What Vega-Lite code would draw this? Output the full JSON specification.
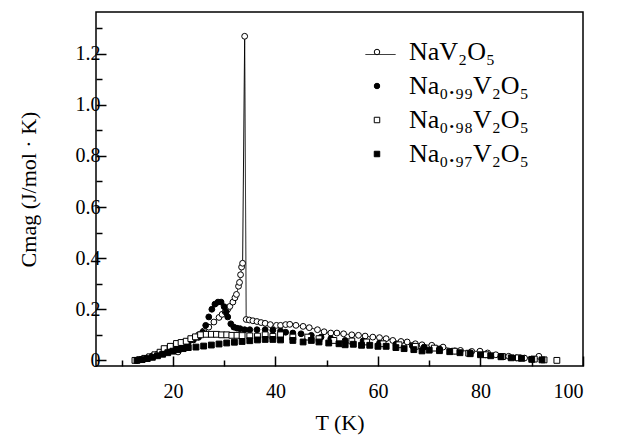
{
  "$schema": "https://vega.github.io/schema/vega-lite/v6.json",
  "width": 487,
  "height": 354,
  "autosize": {"type": "none"},
  "padding": {"left": 96, "top": 12, "right": 57, "bottom": 75},
  "background": "white",
  "config": {
    "view": {"stroke": "black", "strokeWidth": 1.5},
    "font": "Liberation Serif",
    "axis": {"labelFont": "Liberation Serif", "titleFont": "Liberation Serif", "labelColor": "black", "titleColor": "black", "tickColor": "black", "grid": false, "domain": false, "titleFontWeight": "normal"}
  },
  "datasets": {
    "pts": [
      {"s":"NaV2O5","T":14,"C":0.004},{"s":"NaV2O5","T":15,"C":0.01},{"s":"NaV2O5","T":16,"C":0.018},{"s":"NaV2O5","T":17,"C":0.025},{"s":"NaV2O5","T":18,"C":0.032},{"s":"NaV2O5","T":19,"C":0.04},{"s":"NaV2O5","T":20,"C":0.048},{"s":"NaV2O5","T":21,"C":0.033},{"s":"NaV2O5","T":22,"C":0.065},{"s":"NaV2O5","T":23,"C":0.075},{"s":"NaV2O5","T":24,"C":0.085},{"s":"NaV2O5","T":25,"C":0.1},{"s":"NaV2O5","T":26,"C":0.115},{"s":"NaV2O5","T":27,"C":0.13},{"s":"NaV2O5","T":28,"C":0.15},{"s":"NaV2O5","T":29,"C":0.168},{"s":"NaV2O5","T":29.6,"C":0.18},{"s":"NaV2O5","T":30.2,"C":0.19},{"s":"NaV2O5","T":30.7,"C":0.2},{"s":"NaV2O5","T":31.1,"C":0.211},{"s":"NaV2O5","T":31.7,"C":0.228},{"s":"NaV2O5","T":32.1,"C":0.245},{"s":"NaV2O5","T":32.4,"C":0.258},{"s":"NaV2O5","T":32.8,"C":0.29},{"s":"NaV2O5","T":33.0,"C":0.305},{"s":"NaV2O5","T":33.2,"C":0.335},{"s":"NaV2O5","T":33.4,"C":0.365},{"s":"NaV2O5","T":33.6,"C":0.38},{"s":"NaV2O5","T":34.0,"C":1.268},{"s":"NaV2O5","T":34.3,"C":0.16},{"s":"NaV2O5","T":34.9,"C":0.158},{"s":"NaV2O5","T":35.6,"C":0.155},{"s":"NaV2O5","T":36.4,"C":0.152},{"s":"NaV2O5","T":37.2,"C":0.148},{"s":"NaV2O5","T":38.0,"C":0.145},{"s":"NaV2O5","T":39,"C":0.14},{"s":"NaV2O5","T":40.2,"C":0.137},{"s":"NaV2O5","T":41,"C":0.137},{"s":"NaV2O5","T":42,"C":0.14},{"s":"NaV2O5","T":42.8,"C":0.141},{"s":"NaV2O5","T":44,"C":0.137},{"s":"NaV2O5","T":45.4,"C":0.133},{"s":"NaV2O5","T":46.6,"C":0.128},{"s":"NaV2O5","T":48.2,"C":0.12},{"s":"NaV2O5","T":49.5,"C":0.112},{"s":"NaV2O5","T":50.8,"C":0.107},{"s":"NaV2O5","T":52,"C":0.107},{"s":"NaV2O5","T":53.3,"C":0.104},{"s":"NaV2O5","T":54.9,"C":0.1},{"s":"NaV2O5","T":56.2,"C":0.098},{"s":"NaV2O5","T":57.5,"C":0.095},{"s":"NaV2O5","T":59,"C":0.091},{"s":"NaV2O5","T":60.3,"C":0.089},{"s":"NaV2O5","T":61.6,"C":0.085},{"s":"NaV2O5","T":62.9,"C":0.078},{"s":"NaV2O5","T":64.5,"C":0.074},{"s":"NaV2O5","T":65.7,"C":0.072},{"s":"NaV2O5","T":67.3,"C":0.065},{"s":"NaV2O5","T":68.6,"C":0.061},{"s":"NaV2O5","T":70.5,"C":0.059},{"s":"NaV2O5","T":72.7,"C":0.052},{"s":"NaV2O5","T":76.1,"C":0.039},{"s":"NaV2O5","T":78.3,"C":0.035},{"s":"NaV2O5","T":79.9,"C":0.036},{"s":"NaV2O5","T":81.4,"C":0.029},{"s":"NaV2O5","T":83,"C":0.022},{"s":"NaV2O5","T":85.5,"C":0.016},{"s":"NaV2O5","T":88.6,"C":0.009},{"s":"NaV2O5","T":91.4,"C":0.016},

      {"s":"Na0.99","T":13,"C":0.0},{"s":"Na0.99","T":14,"C":0.004},{"s":"Na0.99","T":15,"C":0.01},{"s":"Na0.99","T":16,"C":0.016},{"s":"Na0.99","T":17,"C":0.022},{"s":"Na0.99","T":18,"C":0.03},{"s":"Na0.99","T":19,"C":0.037},{"s":"Na0.99","T":20,"C":0.045},{"s":"Na0.99","T":21,"C":0.052},{"s":"Na0.99","T":22,"C":0.06},{"s":"Na0.99","T":23,"C":0.07},{"s":"Na0.99","T":24,"C":0.08},{"s":"Na0.99","T":25,"C":0.09},{"s":"Na0.99","T":25.8,"C":0.11},{"s":"Na0.99","T":26.4,"C":0.137},{"s":"Na0.99","T":27,"C":0.17},{"s":"Na0.99","T":27.6,"C":0.2},{"s":"Na0.99","T":28.2,"C":0.22},{"s":"Na0.99","T":28.8,"C":0.228},{"s":"Na0.99","T":29.4,"C":0.228},{"s":"Na0.99","T":30,"C":0.21},{"s":"Na0.99","T":30.4,"C":0.19},{"s":"Na0.99","T":30.7,"C":0.17},{"s":"Na0.99","T":31.3,"C":0.143},{"s":"Na0.99","T":31.9,"C":0.13},{"s":"Na0.99","T":32.5,"C":0.126},{"s":"Na0.99","T":33.1,"C":0.124},{"s":"Na0.99","T":34,"C":0.12},{"s":"Na0.99","T":35,"C":0.12},{"s":"Na0.99","T":36.4,"C":0.12},{"s":"Na0.99","T":38,"C":0.12},{"s":"Na0.99","T":39.5,"C":0.118},{"s":"Na0.99","T":41,"C":0.115},{"s":"Na0.99","T":42,"C":0.11},{"s":"Na0.99","T":43.4,"C":0.107},{"s":"Na0.99","T":45,"C":0.104},{"s":"Na0.99","T":47,"C":0.098},{"s":"Na0.99","T":48.9,"C":0.091},{"s":"Na0.99","T":50.8,"C":0.085},{"s":"Na0.99","T":53.6,"C":0.078},{"s":"Na0.99","T":57.1,"C":0.076},{"s":"Na0.99","T":60.3,"C":0.068},{"s":"Na0.99","T":63.5,"C":0.063},{"s":"Na0.99","T":66.7,"C":0.057},{"s":"Na0.99","T":69,"C":0.052},{"s":"Na0.99","T":72,"C":0.045},{"s":"Na0.99","T":75,"C":0.037},{"s":"Na0.99","T":78,"C":0.03},{"s":"Na0.99","T":81,"C":0.022},{"s":"Na0.99","T":84,"C":0.016},{"s":"Na0.99","T":87,"C":0.01},{"s":"Na0.99","T":90,"C":0.005},

      {"s":"Na0.98","T":12.6,"C":0.0},{"s":"Na0.98","T":13.5,"C":0.003},{"s":"Na0.98","T":14.5,"C":0.008},{"s":"Na0.98","T":15.5,"C":0.014},{"s":"Na0.98","T":16.5,"C":0.022},{"s":"Na0.98","T":17.5,"C":0.032},{"s":"Na0.98","T":18.3,"C":0.046},{"s":"Na0.98","T":19.5,"C":0.055},{"s":"Na0.98","T":20.7,"C":0.066},{"s":"Na0.98","T":21.6,"C":0.07},{"s":"Na0.98","T":22.6,"C":0.075},{"s":"Na0.98","T":23.5,"C":0.085},{"s":"Na0.98","T":24.4,"C":0.092},{"s":"Na0.98","T":25.4,"C":0.1},{"s":"Na0.98","T":26.5,"C":0.102},{"s":"Na0.98","T":27.5,"C":0.102},{"s":"Na0.98","T":28.5,"C":0.102},{"s":"Na0.98","T":29.5,"C":0.1},{"s":"Na0.98","T":30.5,"C":0.1},{"s":"Na0.98","T":31.5,"C":0.098},{"s":"Na0.98","T":32.5,"C":0.098},{"s":"Na0.98","T":33.5,"C":0.097},{"s":"Na0.98","T":35,"C":0.096},{"s":"Na0.98","T":36.5,"C":0.095},{"s":"Na0.98","T":38,"C":0.1},{"s":"Na0.98","T":39.5,"C":0.094},{"s":"Na0.98","T":41,"C":0.1},{"s":"Na0.98","T":43.4,"C":0.091},{"s":"Na0.98","T":46.3,"C":0.091},{"s":"Na0.98","T":48.5,"C":0.085},{"s":"Na0.98","T":51.4,"C":0.078},{"s":"Na0.98","T":54.9,"C":0.076},{"s":"Na0.98","T":57.8,"C":0.072},{"s":"Na0.98","T":61,"C":0.065},{"s":"Na0.98","T":64.1,"C":0.061},{"s":"Na0.98","T":67.3,"C":0.055},{"s":"Na0.98","T":71,"C":0.048},{"s":"Na0.98","T":74.9,"C":0.036},{"s":"Na0.98","T":77.7,"C":0.028},{"s":"Na0.98","T":81.1,"C":0.022},{"s":"Na0.98","T":84.3,"C":0.015},{"s":"Na0.98","T":87.4,"C":0.01},{"s":"Na0.98","T":90.5,"C":0.005},{"s":"Na0.98","T":92.4,"C":0.002},{"s":"Na0.98","T":94.9,"C":0.0},

      {"s":"Na0.97","T":13,"C":0.0},{"s":"Na0.97","T":14,"C":0.003},{"s":"Na0.97","T":15,"C":0.007},{"s":"Na0.97","T":16,"C":0.012},{"s":"Na0.97","T":17,"C":0.018},{"s":"Na0.97","T":18,"C":0.024},{"s":"Na0.97","T":19,"C":0.03},{"s":"Na0.97","T":20,"C":0.036},{"s":"Na0.97","T":21,"C":0.042},{"s":"Na0.97","T":22,"C":0.046},{"s":"Na0.97","T":23,"C":0.05},{"s":"Na0.97","T":24.5,"C":0.052},{"s":"Na0.97","T":26,"C":0.056},{"s":"Na0.97","T":27.5,"C":0.06},{"s":"Na0.97","T":29,"C":0.064},{"s":"Na0.97","T":30.5,"C":0.068},{"s":"Na0.97","T":32,"C":0.071},{"s":"Na0.97","T":33.5,"C":0.074},{"s":"Na0.97","T":35,"C":0.077},{"s":"Na0.97","T":36.5,"C":0.08},{"s":"Na0.97","T":38,"C":0.082},{"s":"Na0.97","T":39.5,"C":0.082},{"s":"Na0.97","T":41,"C":0.08},{"s":"Na0.97","T":43.4,"C":0.078},{"s":"Na0.97","T":45.4,"C":0.072},{"s":"Na0.97","T":47,"C":0.078},{"s":"Na0.97","T":48.5,"C":0.072},{"s":"Na0.97","T":50.4,"C":0.068},{"s":"Na0.97","T":52.4,"C":0.065},{"s":"Na0.97","T":53.6,"C":0.061},{"s":"Na0.97","T":55.2,"C":0.063},{"s":"Na0.97","T":56.8,"C":0.059},{"s":"Na0.97","T":58.4,"C":0.059},{"s":"Na0.97","T":60,"C":0.055},{"s":"Na0.97","T":61.6,"C":0.055},{"s":"Na0.97","T":63.5,"C":0.05},{"s":"Na0.97","T":65.1,"C":0.046},{"s":"Na0.97","T":67,"C":0.042},{"s":"Na0.97","T":68.6,"C":0.037},{"s":"Na0.97","T":70,"C":0.04},{"s":"Na0.97","T":72,"C":0.038},{"s":"Na0.97","T":74,"C":0.034},{"s":"Na0.97","T":76,"C":0.03},{"s":"Na0.97","T":78,"C":0.026},{"s":"Na0.97","T":80,"C":0.022},{"s":"Na0.97","T":82,"C":0.018},{"s":"Na0.97","T":84,"C":0.014},{"s":"Na0.97","T":86,"C":0.01},{"s":"Na0.97","T":88,"C":0.008},{"s":"Na0.97","T":90,"C":0.004},{"s":"Na0.97","T":92,"C":0.002}
    ]
  },
  "data": {"name": "pts"},
  "encoding": {
    "x": {
      "field": "T", "type": "quantitative",
      "scale": {"domain": [5, 100], "nice": false, "zero": false},
      "axis": {
        "title": "T (K)", "titleFont": "Liberation Serif", "titleFontSize": 22, "titleFontStyle": "normal", "titlePadding": 11,
        "values": [10, 20, 30, 40, 50, 60, 70, 80, 90, 100],
        "labelExpr": "datum.value % 20 === 0 ? datum.label : ''",
        "labelFont": "Liberation Serif", "labelFontSize": 20, "labelPadding": 25,
        "tickSize": {"condition": {"test": "datum.value % 20 === 0", "value": -10}, "value": -6},
        "tickWidth": 1.5
      }
    },
    "y": {
      "field": "C", "type": "quantitative",
      "scale": {"domain": [-0.022, 1.363], "nice": false, "zero": false},
      "axis": {
        "title": "Cmag (J/mol · K)", "titleFont": "Liberation Serif", "titleFontSize": 22, "titlePadding": 35,
        "values": [0, 0.1, 0.2, 0.3, 0.4, 0.5, 0.6, 0.7, 0.8, 0.9, 1.0, 1.1, 1.2, 1.3],
        "labelExpr": "round(datum.value * 10) % 2 === 0 ? (datum.value === 0 ? '0' : format(datum.value, '.1f')) : ''",
        "labelFont": "Liberation Serif", "labelFontSize": 20, "labelPadding": 6,
        "tickSize": {"condition": {"test": "round(datum.value * 10) % 2 === 0", "value": -10}, "value": -6},
        "tickWidth": 1.5
      }
    }
  },
  "layer": [
    {
      "transform": [{"filter": "datum.s === 'NaV2O5'"}],
      "mark": {"type": "line", "color": "black", "strokeWidth": 1},
      "encoding": {
        "strokeDash": {
          "field": "s", "type": "nominal",
          "scale": {"domain": ["NaV2O5"], "range": [[1, 0]]},
          "legend": {
            "title": null, "orient": "none", "legendX": 269, "legendY": 27,
            "symbolType": "M-1,0L1,0", "symbolSize": 900, "symbolStrokeWidth": 1, "symbolStrokeColor": "black",
            "labelFont": "Liberation Serif", "labelFontSize": 26, "labelExpr": "' '"
          }
        }
      }
    },
    {
      "mark": {"type": "point", "opacity": 1, "stroke": "black", "strokeWidth": 1, "size": 34},
      "encoding": {
        "shape": {
          "field": "s", "type": "nominal",
          "scale": {"domain": ["NaV2O5", "Na0.99", "Na0.98", "Na0.97"], "range": ["circle", "circle", "square", "square"]},
          "legend": {
            "title": null, "orient": "none", "legendX": 268, "legendY": 27,
            "labelFont": "Liberation Serif", "labelFontSize": 26, "labelColor": "black",
            "labelOffset": 19, "rowPadding": 8, "symbolSize": 30, "symbolStrokeWidth": 1,
            "labelExpr": "datum.value === 'NaV2O5' ? 'NaV₂O₅' : datum.value === 'Na0.99' ? 'Na₀.₉₉V₂O₅' : datum.value === 'Na0.98' ? 'Na₀.₉₈V₂O₅' : 'Na₀.₉₇V₂O₅'",
            "encoding": {"symbols": {"update": {"stroke": {"value": "black"}}}}
          }
        },
        "fill": {
          "field": "s", "type": "nominal",
          "scale": {"domain": ["NaV2O5", "Na0.99", "Na0.98", "Na0.97"], "range": ["white", "black", "white", "black"]},
          "legend": null
        }
      }
    }
  ]
}
